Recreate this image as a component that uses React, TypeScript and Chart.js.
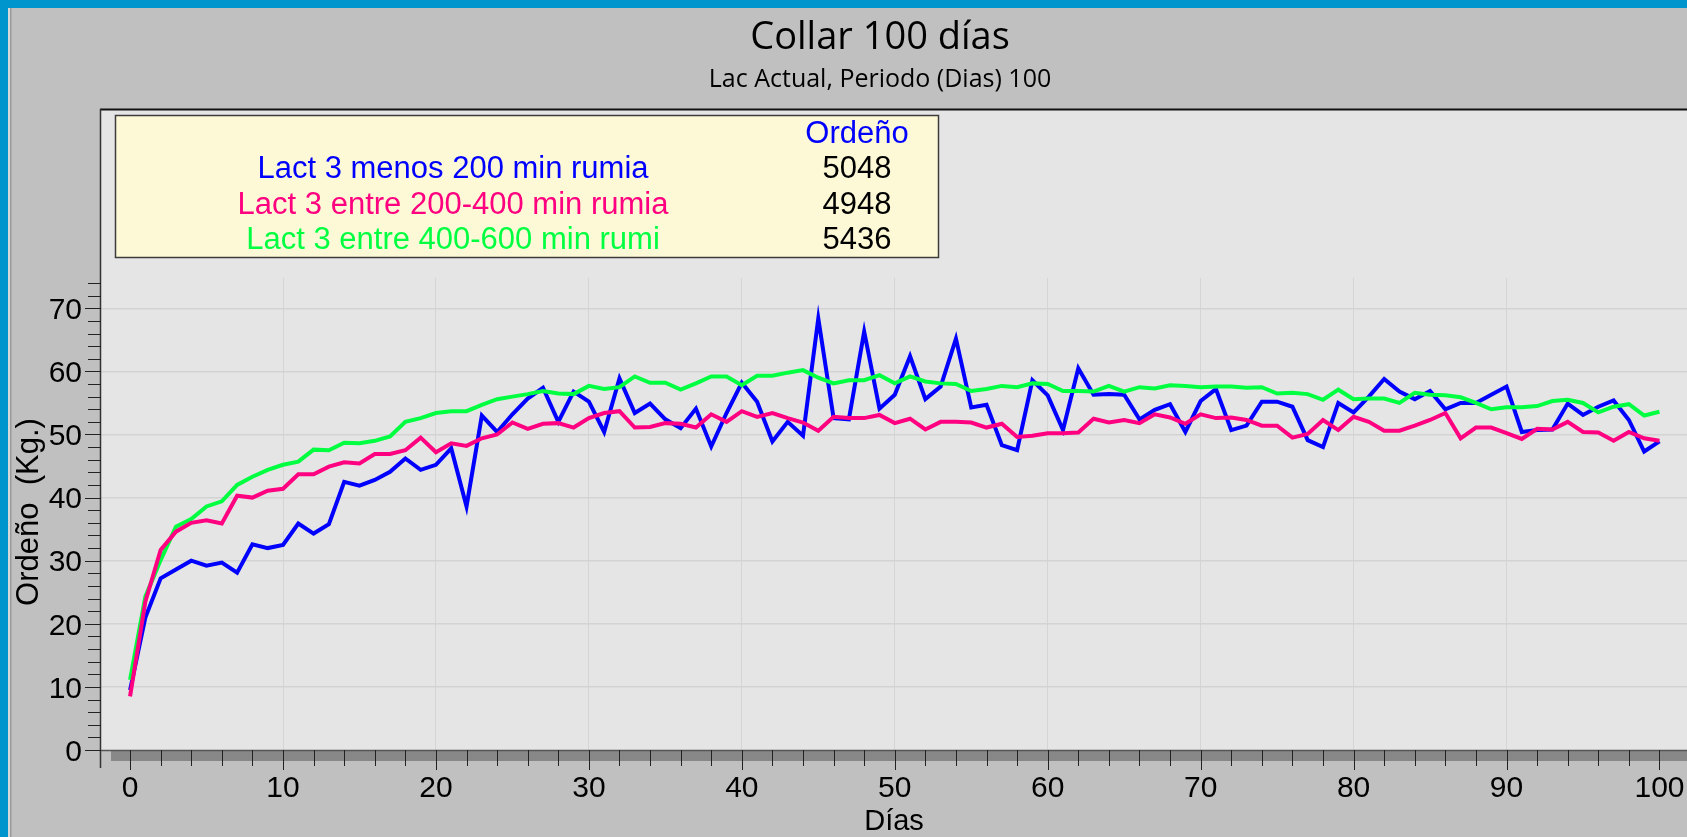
import { useEffect, useRef } from "react";
import { Chart, registerables } from "chart.js";

Chart.register(...registerables);

const W = 1687;
const H = 837;

const chartTitle = "Collar 100 días";
const chartSubtitle = "Lac Actual, Periodo (Dias) 100";
const xAxisTitle = "Días";
const yAxisTitle = "Ordeño  (Kg.)";
const legendHeader = "Ordeño";

const seriesNames = [
  "Lact 3 menos 200 min rumia",
  "Lact 3 entre 200-400 min rumia",
  "Lact 3 entre 400-600 min rumi",
];
const seriesTotals = ["5048", "4948", "5436"];
const seriesColors = ["#0000ff", "#ff0080", "#00ff40"];

const xTickLabels = [0, 10, 20, 30, 40, 50, 60, 70, 80, 90, 100];
const yTickLabels = [0, 10, 20, 30, 40, 50, 60, 70];

const days = Array.from({ length: 101 }, (_, i) => i);

const blueValues = [
  9.5, 21, 27.2, 28.6, 30.0, 29.2, 29.7, 28.1, 32.6, 32.0,
  32.5, 35.9, 34.3, 35.8, 42.5, 41.9, 42.8, 44.1, 46.2, 44.4,
  45.2, 47.8, 38.6, 53.0, 50.4, 53.2, 55.7, 57.4, 52.0, 56.8,
  55.2, 50.4, 58.9, 53.4, 54.9, 52.4, 51.0, 54.1, 48.1, 53.4,
  58.2, 55.2, 48.9, 52.0, 49.8, 68.4, 52.6, 52.4, 66.3, 54.1,
  56.3, 62.4, 55.6, 57.6, 65.2, 54.3, 54.7, 48.3, 47.5, 58.6,
  56.2, 50.7, 60.5, 56.3, 56.4, 56.3, 52.4, 53.9, 54.8, 50.4,
  55.3, 57.2, 50.7, 51.4, 55.2, 55.2, 54.4, 49.1, 48.0, 55.0,
  53.5, 56.0, 58.8, 56.8, 55.6, 56.9, 54.0, 55.0, 55.0, 56.3,
  57.6, 50.4, 50.7, 50.8, 54.9, 53.1, 54.4, 55.4, 52.3, 47.3,
  48.9,
];

const pinkValues = [
  8.5, 23.5, 31.7, 34.6, 36.0, 36.4, 35.9, 40.3, 40.0, 41.1,
  41.4, 43.7, 43.7, 44.9, 45.6, 45.4, 46.9, 46.9, 47.5, 49.5,
  47.2, 48.6, 48.2, 49.4, 50.0, 51.9, 50.9, 51.7, 51.8, 51.1,
  52.6, 53.4, 53.7, 51.1, 51.2, 51.8, 51.7, 51.1, 53.2, 52.0,
  53.7, 52.8, 53.4, 52.6, 51.9, 50.6, 52.8, 52.6, 52.6, 53.1,
  51.8, 52.5, 50.8, 52.0, 52.0, 51.9, 51.1, 51.7, 49.6, 49.8,
  50.2, 50.2, 50.3, 52.5, 51.9, 52.3, 51.8, 53.2, 52.7, 51.7,
  53.2, 52.6, 52.7, 52.3, 51.4, 51.4, 49.5, 50.1, 52.3, 50.7,
  52.8, 52.0, 50.6, 50.6, 51.4, 52.3, 53.4, 49.4, 51.1, 51.1,
  50.2, 49.3, 50.9, 50.8, 52.0, 50.4, 50.3, 49.0, 50.4, 49.4,
  49.0,
];

const greenValues = [
  11.1, 24.3, 30.1, 35.4, 36.6, 38.6, 39.4, 42.0, 43.3, 44.4,
  45.2, 45.7, 47.6, 47.5, 48.7, 48.6, 49.0, 49.7, 52.0, 52.6,
  53.4, 53.7, 53.7, 54.7, 55.6, 56.0, 56.4, 56.9, 56.5, 56.4,
  57.7, 57.2, 57.5, 59.2, 58.2, 58.2, 57.1, 58.1, 59.2, 59.2,
  57.8, 59.3, 59.3, 59.8, 60.2, 59.0, 58.1, 58.6, 58.6, 59.4,
  58.1, 59.2, 58.4, 58.1, 58.0, 56.9, 57.2, 57.7, 57.5, 58.1,
  58.0, 56.9, 56.9, 56.8, 57.7, 56.8, 57.5, 57.3, 57.8, 57.7,
  57.5, 57.6, 57.6, 57.4, 57.5, 56.5, 56.6, 56.4, 55.5, 57.1,
  55.6, 55.7, 55.7, 55.0, 56.6, 56.3, 56.2, 55.9, 55.0, 54.0,
  54.3, 54.3, 54.5, 55.3, 55.5, 55.0, 53.5, 54.4, 54.8, 53.0,
  53.6,
];

const FONT = '"Liberation Sans", Arial, sans-serif';
const TITLE_FONT = '"Open Sans", "Noto Sans", sans-serif';

const decorPlugin = {
  id: "decor",
  beforeDraw(chart: any) {
    const ctx = chart.ctx as CanvasRenderingContext2D;
    const area = chart.chartArea;
    ctx.save();
    // window background
    ctx.fillStyle = "#c0c0c0";
    ctx.fillRect(0, 0, W, H);
    // blue frame
    ctx.fillStyle = "#0096cd";
    ctx.fillRect(0, 0, W, 8);
    ctx.fillRect(0, 0, 8, H);
    ctx.fillStyle = "#d8d8d8";
    ctx.fillRect(8, 8, 2, H);
    ctx.fillStyle = "#9a9a9a";
    ctx.fillRect(10, 8, 1.5, H);
    // plot panel
    ctx.fillStyle = "#e5e5e5";
    ctx.fillRect(area.left, 110, W - area.left, area.bottom - 110);
    ctx.fillStyle = "#111111";
    ctx.fillRect(area.left - 1, 108.5, W - area.left + 1, 2);
    // x-axis shaded band
    ctx.fillStyle = "#888888";
    ctx.fillRect(111, area.bottom, W - 111, 11);
    // titles
    ctx.fillStyle = "#000000";
    ctx.textAlign = "center";
    ctx.textBaseline = "alphabetic";
    ctx.font = `38px ${TITLE_FONT}`;
    ctx.fillText(chartTitle, 880, 49);
    ctx.font = `25px ${TITLE_FONT}`;
    ctx.fillText(chartSubtitle, 880, 86.5);
    ctx.restore();
  },
  afterDraw(chart: any) {
    const ctx = chart.ctx as CanvasRenderingContext2D;
    const area = chart.chartArea;
    const xs = chart.scales.x;
    const ys = chart.scales.y;
    ctx.save();
    // axis lines
    ctx.strokeStyle = "#333333";
    ctx.lineWidth = 1.5;
    ctx.beginPath();
    ctx.moveTo(area.left - 0.5, 109);
    ctx.lineTo(area.left - 0.5, area.bottom + 18);
    ctx.stroke();
    ctx.strokeStyle = "#555555";
    ctx.beginPath();
    ctx.moveTo(area.left - 0.5, area.bottom + 0.5);
    ctx.lineTo(W, area.bottom + 0.5);
    ctx.stroke();

    // y ticks
    ctx.strokeStyle = "#222222";
    ctx.lineWidth = 1;
    for (let v = 0; v <= 74; v += 2) {
      const y = Math.round(ys.getPixelForValue(v)) + 0.5;
      const major = v % 10 === 0;
      ctx.beginPath();
      ctx.moveTo(area.left - (major ? 16 : 13), y);
      ctx.lineTo(area.left, y);
      ctx.stroke();
    }
    // x ticks
    for (let d = 0; d <= 100; d += 2) {
      const x = Math.round(xs.getPixelForValue(d)) + 0.5;
      const major = d % 10 === 0;
      ctx.beginPath();
      ctx.moveTo(x, area.bottom);
      ctx.lineTo(x, area.bottom + (major ? 20 : 16));
      ctx.stroke();
    }

    // tick labels
    ctx.fillStyle = "#000000";
    ctx.font = `30px ${FONT}`;
    ctx.textBaseline = "alphabetic";
    ctx.textAlign = "right";
    for (const v of yTickLabels) {
      const y = ys.getPixelForValue(v);
      ctx.fillText(String(v), 82, y + 10.8);
    }
    ctx.textAlign = "center";
    for (const d of xTickLabels) {
      const x = xs.getPixelForValue(d);
      ctx.fillText(String(d), x, 797);
    }
    // axis titles
    ctx.font = `29px ${FONT}`;
    ctx.fillText(xAxisTitle, (area.left + area.right) / 2, 830);
    ctx.save();
    ctx.translate(38, (area.top + area.bottom) / 2 - 2);
    ctx.rotate(-Math.PI / 2);
    ctx.font = `31px ${FONT}`;
    ctx.fillText(yAxisTitle, 0, 0);
    ctx.restore();

    // legend box
    ctx.fillStyle = "#fdf9d6";
    ctx.fillRect(115, 115, 824, 143);
    ctx.strokeStyle = "#3c3c3c";
    ctx.lineWidth = 1.5;
    ctx.strokeRect(115.5, 115.5, 823, 142);
    ctx.font = `31px ${FONT}`;
    ctx.textAlign = "center";
    ctx.fillStyle = "#0000ff";
    ctx.fillText(legendHeader, 857, 142.7);
    const baselines = [177.7, 213.5, 249];
    for (let i = 0; i < seriesNames.length; i++) {
      ctx.fillStyle = seriesColors[i];
      ctx.fillText(seriesNames[i], 453, baselines[i]);
      ctx.fillStyle = "#000000";
      ctx.fillText(seriesTotals[i], 857, baselines[i]);
    }
    ctx.restore();
  },
};

export default function App() {
  const canvasRef = useRef<HTMLCanvasElement | null>(null);

  useEffect(() => {
    const canvas = canvasRef.current;
    if (!canvas) return;
    const series = [blueValues, pinkValues, greenValues];
    const orders = [3, 1, 2];
    const chart = new Chart(canvas, {
      type: "line",
      data: {
        datasets: series.map((vals, i) => ({
          label: seriesNames[i],
          data: days.map((d, j) => ({ x: d, y: vals[j] })),
          borderColor: seriesColors[i],
          backgroundColor: seriesColors[i],
          borderWidth: 4,
          pointRadius: 0,
          tension: 0,
          fill: false,
          order: orders[i],
          borderJoinStyle: "miter" as const,
        })),
      },
      options: {
        responsive: false,
        animation: false,
        devicePixelRatio: 1,
        layout: { padding: { left: 101, top: 278, right: 0, bottom: H - 750 } },
        plugins: {
          legend: { display: false },
          title: { display: false },
          tooltip: { enabled: false },
        },
        events: [],
        scales: {
          x: {
            type: "linear",
            min: -1.9,
            max: 101.8,
            ticks: { display: false, stepSize: 10 },
            border: { display: false },
            grid: {
              drawTicks: false,
              lineWidth: 1,
              color: (c: any) =>
                c.tick && c.tick.value % 10 === 0 ? "#d5d5d5" : "rgba(0,0,0,0)",
            },
          },
          y: {
            type: "linear",
            min: 0,
            max: 74.8,
            ticks: { display: false, stepSize: 10 },
            border: { display: false },
            grid: {
              drawTicks: false,
              lineWidth: 1.5,
              color: (c: any) =>
                c.tick && c.tick.value % 10 === 0 && c.tick.value > 0
                  ? "#d3d3d3"
                  : "rgba(0,0,0,0)",
            },
          },
        },
      },
      plugins: [decorPlugin],
    });
    return () => chart.destroy();
  }, []);

  return (
    <div
      style={{
        position: "fixed",
        left: 0,
        top: 0,
        width: W,
        height: H,
        overflow: "hidden",
      }}
    >
      <canvas
        ref={canvasRef}
        width={W}
        height={H}
        style={{ display: "block", width: W, height: H }}
      />
    </div>
  );
}
